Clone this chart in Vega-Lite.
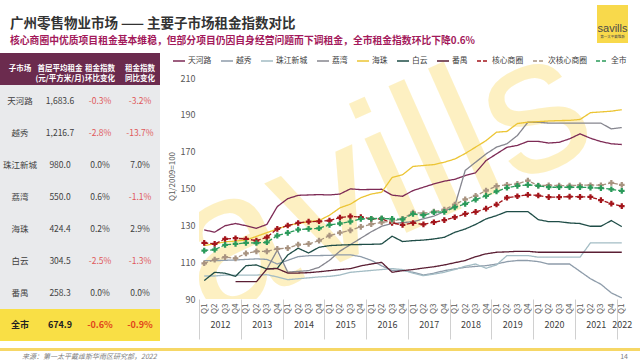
{
  "$schema": "https://vega.github.io/schema/vega-lite/v6.json",
  "padding": {"top": 5, "left": 0, "right": 0, "bottom": 0},
  "background": "#ffffff",
  "config": {"font": "Noto Sans CJK SC", "view": {"stroke": null}},
  "spacing": 7,
  "datasets": {
    "q": [
      {"i":0,"天河路":127.5,"越秀":110.8,"珠江新城":102.5,"荔湾":null,"海珠":119,"白云":100,"番禺":null,"核心商圈":120.5,"次核心商圈":109.4,"全市":116.3},
      {"i":1,"天河路":126.3,"越秀":110.8,"珠江新城":102.5,"荔湾":null,"海珠":120,"白云":104.5,"番禺":null,"核心商圈":119.9,"次核心商圈":111.4,"全市":116.8},
      {"i":2,"天河路":129.8,"越秀":111,"珠江新城":103,"荔湾":null,"海珠":121,"白云":104,"番禺":null,"核心商圈":122.6,"次核心商圈":112.7,"全市":119.4},
      {"i":3,"天河路":131,"越秀":111.2,"珠江新城":103,"荔湾":null,"海珠":121.5,"白云":102.3,"番禺":99.4,"核心商圈":123,"次核心商圈":112.1,"全市":119.9},
      {"i":4,"天河路":129.8,"越秀":111.5,"珠江新城":103,"荔湾":null,"海珠":122,"白云":108.1,"番禺":99.4,"核心商圈":122.6,"次核心商圈":114.8,"全市":120.5},
      {"i":5,"天河路":128.4,"越秀":111.8,"珠江新城":103,"荔湾":null,"海珠":124,"白云":108.5,"番禺":99.4,"核心商圈":121.7,"次核心商圈":115.9,"全市":120.4},
      {"i":6,"天河路":130.5,"越秀":111.5,"珠江新城":103.2,"荔湾":106.3,"海珠":126,"白云":106.3,"番禺":106.3,"核心商圈":123.5,"次核心商圈":115.9,"全市":120.8},
      {"i":7,"天河路":140.2,"越秀":109,"珠江新城":102,"荔湾":116.5,"海珠":128,"白云":106.7,"番禺":106.5,"核心商圈":128.1,"次核心商圈":117.2,"全市":124.4},
      {"i":8,"天河路":144.5,"越秀":111,"珠江新城":100.5,"荔湾":104.6,"海珠":130,"白云":113.9,"番禺":104.1,"核心商圈":129.9,"次核心商圈":117.6,"全市":125.9},
      {"i":9,"天河路":146.3,"越秀":113,"珠江新城":101,"荔湾":105,"海珠":131,"白云":117.6,"番禺":104.1,"核心商圈":131.3,"次核心商圈":119.5,"全市":127.7},
      {"i":10,"天河路":146.5,"越秀":113.5,"珠江新城":101.5,"荔湾":105.4,"海珠":132,"白云":115,"番禺":104.3,"核心商圈":132,"次核心商圈":119.9,"全市":128.1},
      {"i":11,"天河路":146.7,"越秀":113.6,"珠江新城":102,"荔湾":107.2,"海珠":132.6,"白云":118.1,"番禺":104.8,"核心商圈":132.2,"次核心商圈":121.7,"全市":128.4},
      {"i":12,"天河路":146.5,"越秀":113.7,"珠江新城":102.3,"荔湾":111,"海珠":135.5,"白云":119,"番禺":105.4,"核心商圈":132.6,"次核心商圈":124.4,"全市":130.2},
      {"i":13,"天河路":147,"越秀":114,"珠江新城":103,"荔湾":116,"海珠":139.5,"白云":119.3,"番禺":106,"核心商圈":134.2,"次核心商圈":126,"全市":131},
      {"i":14,"天河路":149.8,"越秀":114,"珠江新城":104.5,"荔湾":119.5,"海珠":141.5,"白云":119.5,"番禺":106.5,"核心商圈":134.9,"次核心商圈":127.3,"全市":132},
      {"i":15,"天河路":149.4,"越秀":113,"珠江新城":105,"荔湾":123,"海珠":145,"白云":119.6,"番禺":108,"核心商圈":134.5,"次核心商圈":129.2,"全市":133.5},
      {"i":16,"天河路":149.5,"越秀":111,"珠江新城":105.5,"荔湾":126.5,"海珠":147,"白云":119.7,"番禺":109,"核心商圈":133.5,"次核心商圈":130.6,"全市":133.6},
      {"i":17,"天河路":149.6,"越秀":108,"珠江新城":106,"荔湾":129.5,"海珠":148,"白云":119.9,"番禺":109.9,"核心商圈":133.5,"次核心商圈":131.6,"全市":133.8},
      {"i":18,"天河路":146.4,"越秀":105.5,"珠江新城":106.5,"荔湾":131,"海珠":156,"白云":124.1,"番禺":104.5,"核心商圈":131.3,"次核心商圈":132.3,"全市":133.5},
      {"i":19,"天河路":145.8,"越秀":105.5,"珠江新城":106,"荔湾":131.5,"海珠":157.5,"白云":121.2,"番禺":105.4,"核心商圈":130.2,"次核心商圈":133.5,"全市":133.3},
      {"i":20,"天河路":148.9,"越秀":104.5,"珠江新城":104,"荔湾":132,"海珠":162,"白云":121.7,"番禺":106,"核心商圈":131.3,"次核心商圈":137,"全市":136.2},
      {"i":21,"天河路":150.7,"越秀":103,"珠江新城":102.7,"荔湾":133.5,"海珠":162.5,"白云":122,"番禺":106.8,"核心商圈":130.5,"次核心商圈":136.5,"全市":135.5},
      {"i":22,"天河路":152.5,"越秀":104,"珠江新城":103.5,"荔湾":135,"海珠":163,"白云":122.6,"番禺":107.5,"核心商圈":131.7,"次核心商圈":137.5,"全市":137.1},
      {"i":23,"天河路":154,"越秀":105.4,"珠江新城":104.5,"荔湾":137.5,"海珠":164.3,"白云":123.5,"番禺":108.5,"核心商圈":132.8,"次核心商圈":138.5,"全市":137.3},
      {"i":24,"天河路":155,"越秀":106.3,"珠江新城":106,"荔湾":140.5,"海珠":166,"白云":126.2,"番禺":109.7,"核心商圈":134.4,"次核心商圈":141.3,"全市":139.8},
      {"i":25,"天河路":157,"越秀":107.2,"珠江新城":107.8,"荔湾":159.8,"海珠":169,"白云":128,"番禺":110.9,"核心商圈":136.2,"次核心商圈":144.1,"全市":141.6},
      {"i":26,"天河路":158.6,"越秀":107.7,"珠江新城":109,"荔湾":164.3,"海珠":172.5,"白云":130.5,"番禺":113,"核心商圈":137.3,"次核心商圈":146,"全市":144},
      {"i":27,"天河路":165.2,"越秀":108.1,"珠江新城":106.7,"荔湾":168.8,"海珠":176,"白云":133.5,"番禺":114.5,"核心商圈":139.1,"次核心商圈":148.9,"全市":146},
      {"i":28,"天河路":168.8,"越秀":109,"珠江新城":108.5,"荔湾":172.5,"海珠":180.6,"白云":135.3,"番禺":115.4,"核心商圈":141.3,"次核心商圈":151.3,"全市":148.4},
      {"i":29,"天河路":172.4,"越秀":110.3,"珠江新城":113.6,"荔湾":174.3,"海珠":181,"白云":137.5,"番禺":115.6,"核心商圈":145,"次核心商圈":152,"全市":150.4},
      {"i":30,"天河路":173.4,"越秀":110.9,"珠江新城":113.6,"荔湾":178.8,"海珠":185.3,"白云":137.5,"番禺":115.9,"核心商圈":145.8,"次核心商圈":152.5,"全市":151.4},
      {"i":31,"天河路":175.6,"越秀":110.9,"珠江新城":113.6,"荔湾":186,"海珠":186,"白云":137.5,"番禺":115.9,"核心商圈":146.6,"次核心商圈":154.3,"全市":152},
      {"i":32,"天河路":175.6,"越秀":110.3,"珠江新城":112.7,"荔湾":186,"海珠":186.3,"白云":133.1,"番禺":115.4,"核心商圈":146.2,"次核心商圈":151.6,"全市":151.5},
      {"i":33,"天河路":174.7,"越秀":109,"珠江新城":112.7,"荔湾":185.5,"海珠":186.7,"白云":132,"番禺":115.4,"核心商圈":145.3,"次核心商圈":151.8,"全市":150.7},
      {"i":34,"天河路":175.1,"越秀":109,"珠江新城":112.7,"荔湾":185.5,"海珠":186.9,"白云":132,"番禺":115.4,"核心商圈":145.3,"次核心商圈":151.6,"全市":150.7},
      {"i":35,"天河路":177,"越秀":109,"珠江新城":112.7,"荔湾":185.5,"海珠":187,"白云":131.3,"番禺":115.4,"核心商圈":145.6,"次核心商圈":151.6,"全市":150.7},
      {"i":36,"天河路":179.7,"越秀":105,"珠江新城":112.7,"荔湾":185.5,"海珠":187.5,"白云":131,"番禺":115.4,"核心商圈":145.5,"次核心商圈":151.8,"全市":150.7},
      {"i":37,"天河路":177.3,"越秀":101,"珠江新城":120.5,"荔湾":185.5,"海珠":191.2,"白云":129.5,"番禺":115.4,"核心商圈":145.4,"次核心商圈":151.8,"全市":150.5},
      {"i":38,"天河路":175.5,"越秀":98,"珠江新城":120.5,"荔湾":185.5,"海珠":191.6,"白云":129.5,"番禺":115.4,"核心商圈":143.7,"次核心商圈":151.8,"全市":150.2},
      {"i":39,"天河路":174.3,"越秀":93.3,"珠江新城":120.5,"荔湾":182.4,"海珠":192,"白云":132.6,"番禺":115.4,"核心商圈":141.8,"次核心商圈":153.1,"全市":149.6},
      {"i":40,"天河路":173.9,"越秀":90.6,"珠江新城":120.5,"荔湾":183.1,"海珠":192.8,"白云":129.3,"番禺":115.4,"核心商圈":140.4,"次核心商圈":152,"全市":148.7}
    ],
    "tbl": [
      {"子市场":"天河路","租金":"1,683.6","环比":"-0.3%","同比":"-3.2%"},
      {"子市场":"越秀","租金":"1,216.7","环比":"-2.8%","同比":"-13.7%"},
      {"子市场":"珠江新城","租金":"980.0","环比":"0.0%","同比":"7.0%"},
      {"子市场":"荔湾","租金":"550.0","环比":"0.6%","同比":"-1.1%"},
      {"子市场":"海珠","租金":"424.4","环比":"0.2%","同比":"2.9%"},
      {"子市场":"白云","租金":"304.5","环比":"-2.5%","同比":"-1.3%"},
      {"子市场":"番禺","租金":"258.3","环比":"0.0%","同比":"0.0%"},
      {"子市场":"全市","租金":"674.9","环比":"-0.6%","同比":"-0.9%"}
    ],
    "hdr": [
      {"列":"子市场","标题":"子市场"},
      {"列":"租金","标题":"首层平均租金\n(元/平方米/月)"},
      {"列":"环比","标题":"租金指数\n环比变化"},
      {"列":"同比","标题":"租金指数\n同比变化"}
    ]
  },
  "vconcat": [
    {
      "hconcat": [
        {
          "width": 597, "height": 10,
          "data": {"values": [{"k": "t"}]},
          "mark": {"type": "rect", "opacity": 0},
          "encoding": {
            "x": {"field": "k", "type": "nominal", "scale": {"paddingInner": 0, "paddingOuter": 0}, "axis": null},
            "y": {"field": "k", "type": "nominal", "scale": {"paddingInner": 0, "paddingOuter": 0}, "axis": null}
          },
          "title": {
            "text": "广州零售物业市场 —— 主要子市场租金指数对比",
            "subtitle": "核心商圈中优质项目租金基本维稳，但部分项目仍因自身经营问题而下调租金，全市租金指数环比下降0.6%",
            "orient": "bottom", "anchor": "start", "dx": 10, "offset": 2,
            "fontSize": 13.5, "fontWeight": "bold", "color": "#333333", "font": "Noto Sans CJK SC",
            "subtitleFontSize": 9.8, "subtitleFontWeight": "bold", "subtitleColor": "#a3195b", "subtitleFont": "Noto Sans CJK SC", "subtitlePadding": 5
          }
        },
        {
          "width": 31, "height": 38,
          "data": {"values": [{"k": "logo"}]},
          "encoding": {
            "x": {"field": "k", "type": "nominal", "scale": {"paddingInner": 0, "paddingOuter": 0}, "axis": null},
            "y": {"field": "k", "type": "nominal", "scale": {"paddingInner": 0, "paddingOuter": 0}, "axis": null}
          },
          "layer": [
            {"mark": {"type": "rect", "fill": "#f8d94b"}},
            {"mark": {"type": "text", "text": "savills", "fontSize": 11, "color": "#4a4a4a", "font": "Liberation Sans", "dy": 5}},
            {"mark": {"type": "text", "text": "第一太平戴维斯", "fontSize": 3.5, "color": "#4a4a4a", "dy": 13}}
          ]
        }
      ],
      "spacing": 0
    },
    {
      "hconcat": [
        {
          "width": 160, "height": 288,
          "layer": [
            {
              "data": {"name": "tbl"},
              "transform": [{"fold": ["子市场","租金","环比","同比"], "as": ["列","值"]}],
              "mark": {"type": "rect"},
              "encoding": {
                "x": {"field": "列", "type": "nominal", "scale": {"domain": ["子市场","租金","环比","同比"], "paddingInner": 0, "paddingOuter": 0}, "axis": null},
                "y": {"field": "子市场", "type": "nominal", "scale": {"domain": ["表头","天河路","越秀","珠江新城","荔湾","海珠","白云","番禺","全市"], "paddingInner": 0, "paddingOuter": 0}, "axis": null},
                "fill": {"condition": {"test": "datum['子市场'] === '全市'", "value": "#f9df45"}, "value": "#e9eaec"}
              }
            },
            {
              "data": {"name": "hdr"},
              "mark": {"type": "rect", "fill": "#6b2b4e"},
              "encoding": {
                "x": {"field": "列", "type": "nominal"},
                "y": {"datum": "表头", "type": "nominal"}
              }
            },
            {
              "data": {"name": "hdr"},
              "mark": {"type": "text", "color": "#ffffff", "fontWeight": "bold", "fontSize": 7.5, "lineBreak": "\n", "lineHeight": 10},
              "encoding": {
                "x": {"field": "列", "type": "nominal"},
                "y": {"datum": "表头", "type": "nominal"},
                "text": {"field": "标题"}
              }
            },
            {
              "data": {"name": "tbl"},
              "transform": [
                {"filter": "datum['子市场'] !== '全市'"},
                {"fold": ["子市场","租金","环比","同比"], "as": ["列","值"]}
              ],
              "mark": {"type": "text", "fontSize": 8.5},
              "encoding": {
                "x": {"field": "列", "type": "nominal"},
                "y": {"field": "子市场", "type": "nominal"},
                "text": {"field": "值"},
                "color": {"condition": {"test": "indexof(datum['值'], '-') === 0", "value": "#e0585a"}, "value": "#3f3f3f"}
              }
            },
            {
              "data": {"name": "tbl"},
              "transform": [
                {"filter": "datum['子市场'] === '全市'"},
                {"fold": ["子市场","租金","环比","同比"], "as": ["列","值"]}
              ],
              "mark": {"type": "text", "fontSize": 9, "fontWeight": "bold"},
              "encoding": {
                "x": {"field": "列", "type": "nominal"},
                "y": {"field": "子市场", "type": "nominal"},
                "text": {"field": "值"},
                "color": {"condition": {"test": "indexof(datum['值'], '-') === 0", "value": "#e2451c"}, "value": "#222222"}
              }
            }
          ]
        },
        {
          "width": 428, "height": 246,
          "data": {"name": "q"},
          "layer": [
            {
              "data": {"values": [{"t": "savills"}]},
              "mark": {"type": "text", "text": "savills", "fontSize": 195, "font": "Liberation Sans", "angle": 336, "color": "#fbe07a", "opacity": 0.45, "clip": true, "align": "center", "baseline": "middle"},
              "encoding": {
                "x": {"datum": 12.6, "type": "quantitative", "axis": null},
                "y": {"datum": 144, "type": "quantitative",
                  "axis": {"values": [90,110,130,150,170,190,210], "title": "Q1/2009=100", "titleFontSize": 8, "titleFontWeight": "normal", "titleColor": "#595959", "titlePadding": 4, "labelFontSize": 9, "labelColor": "#595959", "labelPadding": 4, "domain": false, "ticks": false, "gridColor": "#d9d9d9", "gridWidth": 0.8}}
              }
            },
            {
              "mark": {"type": "point", "opacity": 0},
              "encoding": {
                "x": {"field": "i", "type": "quantitative", "axis": {"orient": "bottom", "values": [-0.5,3.5,7.5,11.5,15.5,19.5,23.5,27.5,31.5,35.5,39.5], "labels": false, "ticks": true, "tickSize": 40, "tickColor": "#c4c4c4", "tickWidth": 0.8, "domain": false, "grid": false, "title": null}},
                "y": {"datum": 150, "type": "quantitative",
                  "axis": {"values": [90,110,130,150,170,190,210], "title": "Q1/2009=100", "titleFontSize": 8, "titleFontWeight": "normal", "titleColor": "#595959", "titlePadding": 4, "labelFontSize": 9, "labelColor": "#595959", "labelPadding": 4, "domain": false, "ticks": false, "gridColor": "#d9d9d9", "gridWidth": 0.8}}
              }
            },
            {
              "mark": {"type": "point", "opacity": 0},
              "encoding": {
                "x": {"field": "i", "type": "quantitative", "axis": {"orient": "bottom", "offset": 19, "values": [1.5,5.5,9.5,13.5,17.5,21.5,25.5,29.5,33.5,37.5,40], "labelExpr": "datum.value > 39 ? '2022' : '' + (2012 + floor(datum.value / 4))", "labelFontSize": 9, "labelColor": "#404040", "labelPadding": 2, "ticks": false, "domain": false, "grid": false, "title": null, "labelOverlap": false, "labelFlush": false}},
                "y": {"datum": 150, "type": "quantitative",
                  "axis": {"values": [90,110,130,150,170,190,210], "title": "Q1/2009=100", "titleFontSize": 8, "titleFontWeight": "normal", "titleColor": "#595959", "titlePadding": 4, "labelFontSize": 9, "labelColor": "#595959", "labelPadding": 4, "domain": false, "ticks": false, "gridColor": "#d9d9d9", "gridWidth": 0.8}}
              }
            },
            {
              "transform": [{"fold": ["天河路","越秀","珠江新城","荔湾","海珠","白云","番禺","核心商圈","次核心商圈","全市"], "as": ["系列","指数"]}],
              "mark": {"type": "line", "strokeWidth": 1.3},
              "encoding": {
                "x": {"field": "i", "type": "quantitative", "scale": {"domain": [-0.5, 40.5], "nice": false, "zero": false},
                  "axis": {"orient": "bottom", "values": [0,1,2,3,4,5,6,7,8,9,10,11,12,13,14,15,16,17,18,19,20,21,22,23,24,25,26,27,28,29,30,31,32,33,34,35,36,37,38,39,40], "labelExpr": "'Q' + (datum.value % 4 + 1)", "labelAngle": -90, "labelFontSize": 8, "labelColor": "#595959", "labelPadding": 4, "grid": false, "ticks": false, "domain": false, "title": null, "labelOverlap": false, "labelFlush": false}},
                "y": {"field": "指数", "type": "quantitative", "scale": {"domain": [90, 223.6], "nice": false, "zero": false},
                  "axis": {"values": [90,110,130,150,170,190,210], "title": "Q1/2009=100", "titleFontSize": 8, "titleFontWeight": "normal", "titleColor": "#595959", "titlePadding": 4, "labelFontSize": 9, "labelColor": "#595959", "labelPadding": 4, "domain": false, "ticks": false, "gridColor": "#d9d9d9", "gridWidth": 0.8}},
                "color": {"field": "系列", "type": "nominal",
                  "scale": {"domain": ["天河路","越秀","珠江新城","荔湾","海珠","白云","番禺","核心商圈","次核心商圈","全市"], "range": ["#7d2a55","#8e9caa","#a3bcc4","#86868f","#ecc535","#1f4d47","#5a1e33","#a3151b","#a89380","#2a9a5a"]},
                  "legend": {"orient": "none", "legendX": 172, "legendY": 49, "direction": "horizontal", "title": null, "symbolType": "stroke", "symbolSize": 144, "symbolStrokeWidth": 1.5, "labelFontSize": 7.8, "labelColor": "#404040", "columnPadding": 6, "labelOffset": 2}},
                "strokeDash": {"field": "系列", "type": "nominal",
                  "scale": {"domain": ["天河路","越秀","珠江新城","荔湾","海珠","白云","番禺","核心商圈","次核心商圈","全市"], "range": [[1,0],[1,0],[1,0],[1,0],[1,0],[1,0],[1,0],[4,2],[4,2],[4,2]]},
                  "legend": {"orient": "none", "legendX": 172, "legendY": 49, "direction": "horizontal", "title": null, "symbolType": "stroke", "symbolSize": 144, "symbolStrokeWidth": 1.5, "labelFontSize": 7.8, "labelColor": "#404040", "columnPadding": 6, "labelOffset": 2}}
              }
            },
            {
              "transform": [
                {"fold": ["核心商圈","次核心商圈","全市"], "as": ["系列","指数"]}
              ],
              "mark": {"type": "point", "shape": "cross", "filled": true, "size": 32, "opacity": 1},
              "encoding": {
                "x": {"field": "i", "type": "quantitative", "axis": null},
                "y": {"field": "指数", "type": "quantitative",
                  "axis": {"values": [90,110,130,150,170,190,210], "title": "Q1/2009=100", "titleFontSize": 8, "titleFontWeight": "normal", "titleColor": "#595959", "titlePadding": 4, "labelFontSize": 9, "labelColor": "#595959", "labelPadding": 4, "domain": false, "ticks": false, "gridColor": "#d9d9d9", "gridWidth": 0.8}},
                "color": {"field": "系列", "type": "nominal", "legend": null}
              }
            }
          ],
          "resolve": {"axis": {"x": "independent"}}
        }
      ],
      "spacing": 8
    },
    {
      "hconcat": [
        {
          "width": 560, "height": 3,
          "data": {"values": [{"k": "f"}]},
          "mark": {"type": "rect", "fill": "#f6d766"},
          "encoding": {
            "x": {"field": "k", "type": "nominal", "scale": {"paddingInner": 0, "paddingOuter": 0}, "axis": null},
            "y": {"field": "k", "type": "nominal", "scale": {"paddingInner": 0, "paddingOuter": 0}, "axis": null}
          },
          "title": {"text": "来源：第一太平戴维斯华南区研究部，2022", "orient": "bottom", "anchor": "start", "dx": 22, "offset": 2, "fontSize": 7, "fontWeight": "normal", "fontStyle": "italic", "color": "#7f7f7f"}
        },
        {
          "width": 80, "height": 3,
          "data": {"values": [{"k": "p"}]},
          "mark": {"type": "rect", "fill": "#f6d766"},
          "encoding": {
            "x": {"field": "k", "type": "nominal", "scale": {"paddingInner": 0, "paddingOuter": 0}, "axis": null},
            "y": {"field": "k", "type": "nominal", "scale": {"paddingInner": 0, "paddingOuter": 0}, "axis": null}
          },
          "title": {"text": "14", "orient": "bottom", "anchor": "end", "dx": -12, "offset": 2, "fontSize": 7, "fontWeight": "normal", "color": "#7f7f7f"}
        }
      ],
      "spacing": 0
    }
  ]
}
